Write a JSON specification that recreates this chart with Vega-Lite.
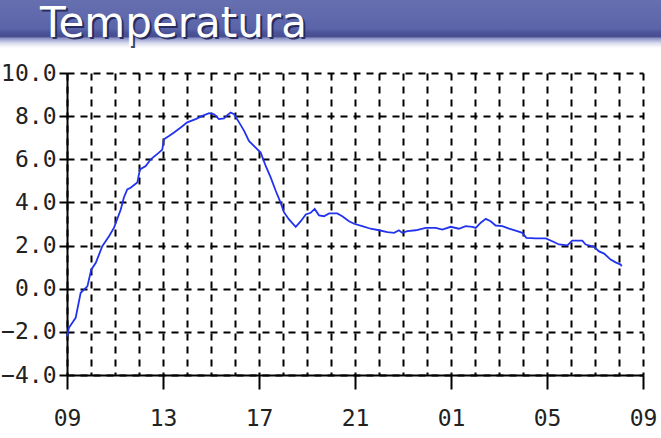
{
  "$schema": "https://vega.github.io/schema/vega-lite/v6.json",
  "padding": 0,
  "background": "white",
  "spacing": 14,
  "config": {"view": {"stroke": null}},
  "vconcat": [
    {
      "width": 594,
      "height": 48,
      "data": {"values": [{"title": "Temperatura"}]},
      "layer": [
        {
          "mark": {
            "type": "rect",
            "xOffset": -67,
            "color": {
              "gradient": "linear",
              "x1": 0, "y1": 0, "x2": 0, "y2": 1,
              "stops": [
                {"offset": 0, "color": "#6670b0"},
                {"offset": 0.6, "color": "#5a64a8"},
                {"offset": 0.68, "color": "#4c5398"},
                {"offset": 0.76, "color": "#474d8e"},
                {"offset": 0.8, "color": "#8d93c6"},
                {"offset": 0.9, "color": "#dadcef"},
                {"offset": 1, "color": "#ffffff"}
              ]
            }
          },
          "encoding": {"x": {"value": 0}, "x2": {"value": "width"}}
        },
        {
          "mark": {"type": "text", "font": "DejaVu Sans", "fontSize": 42, "align": "left", "baseline": "alphabetic", "dx": -322, "dy": 15, "color": "#1d2250", "opacity": 0.85},
          "encoding": {"text": {"field": "title"}}
        },
        {
          "mark": {"type": "text", "font": "DejaVu Sans", "fontSize": 42, "align": "left", "baseline": "alphabetic", "dx": -324, "dy": 13, "color": "#ffffff"},
          "encoding": {"text": {"field": "title"}}
        }
      ]
    },
    {
      "width": 576,
      "height": 302,
      "data": {"values": [
        {"h": 0, "t": -2.22}, {"h": 0.08, "t": -1.81}, {"h": 0.36, "t": -1.35}, {"h": 0.57, "t": -0.19},
        {"h": 0.85, "t": 0.11}, {"h": 1.01, "t": 0.88}, {"h": 1.2, "t": 1.2}, {"h": 1.47, "t": 1.97},
        {"h": 1.75, "t": 2.43}, {"h": 1.96, "t": 2.83}, {"h": 2.24, "t": 3.67}, {"h": 2.37, "t": 4.23},
        {"h": 2.51, "t": 4.6}, {"h": 2.65, "t": 4.68}, {"h": 2.93, "t": 4.92}, {"h": 3.04, "t": 5.53},
        {"h": 3.28, "t": 5.69}, {"h": 3.49, "t": 6.0}, {"h": 3.83, "t": 6.31}, {"h": 3.97, "t": 6.45},
        {"h": 4.04, "t": 6.93}, {"h": 4.25, "t": 7.08}, {"h": 4.46, "t": 7.24}, {"h": 4.74, "t": 7.47},
        {"h": 5.01, "t": 7.71}, {"h": 5.36, "t": 7.86}, {"h": 5.64, "t": 8.01}, {"h": 5.92, "t": 8.14},
        {"h": 6.13, "t": 8.09}, {"h": 6.33, "t": 7.86}, {"h": 6.54, "t": 7.89}, {"h": 6.68, "t": 8.05},
        {"h": 6.82, "t": 8.17}, {"h": 6.96, "t": 8.09}, {"h": 7.17, "t": 7.71}, {"h": 7.38, "t": 7.32},
        {"h": 7.58, "t": 6.85}, {"h": 7.86, "t": 6.54}, {"h": 8.07, "t": 6.31}, {"h": 8.28, "t": 5.69},
        {"h": 8.49, "t": 5.15}, {"h": 8.7, "t": 4.53}, {"h": 8.9, "t": 3.99}, {"h": 9.04, "t": 3.55},
        {"h": 9.25, "t": 3.21}, {"h": 9.53, "t": 2.87}, {"h": 9.74, "t": 3.13}, {"h": 9.95, "t": 3.44},
        {"h": 10.15, "t": 3.52}, {"h": 10.32, "t": 3.7}, {"h": 10.5, "t": 3.4}, {"h": 10.71, "t": 3.36},
        {"h": 10.92, "t": 3.49}, {"h": 11.26, "t": 3.49}, {"h": 11.47, "t": 3.36}, {"h": 11.75, "t": 3.13},
        {"h": 11.96, "t": 3.01}, {"h": 12.3, "t": 2.9}, {"h": 12.65, "t": 2.78}, {"h": 13.0, "t": 2.71},
        {"h": 13.35, "t": 2.62}, {"h": 13.63, "t": 2.59}, {"h": 13.83, "t": 2.71}, {"h": 13.97, "t": 2.59},
        {"h": 14.18, "t": 2.67}, {"h": 14.53, "t": 2.71}, {"h": 14.95, "t": 2.82}, {"h": 15.36, "t": 2.82},
        {"h": 15.64, "t": 2.74}, {"h": 15.99, "t": 2.87}, {"h": 16.33, "t": 2.78}, {"h": 16.61, "t": 2.9},
        {"h": 16.89, "t": 2.87}, {"h": 17.03, "t": 2.82}, {"h": 17.24, "t": 3.06}, {"h": 17.45, "t": 3.24},
        {"h": 17.65, "t": 3.13}, {"h": 17.86, "t": 2.93}, {"h": 18.14, "t": 2.9}, {"h": 18.42, "t": 2.79},
        {"h": 18.76, "t": 2.67}, {"h": 18.97, "t": 2.59}, {"h": 19.14, "t": 2.36}, {"h": 19.53, "t": 2.33},
        {"h": 19.95, "t": 2.33}, {"h": 20.22, "t": 2.2}, {"h": 20.5, "t": 2.05}, {"h": 20.85, "t": 2.01},
        {"h": 21.05, "t": 2.23}, {"h": 21.47, "t": 2.23}, {"h": 21.61, "t": 2.05}, {"h": 21.96, "t": 1.94},
        {"h": 22.17, "t": 1.73}, {"h": 22.38, "t": 1.63}, {"h": 22.65, "t": 1.35}, {"h": 22.86, "t": 1.22},
        {"h": 23.07, "t": 1.12}, {"h": 23.11, "t": 1.04}
      ]},
      "mark": {"type": "line", "color": "#2233ee", "strokeWidth": 1.8},
      "encoding": {
        "x": {
          "field": "h", "type": "quantitative",
          "scale": {"domain": [0, 24], "nice": false, "zero": false},
          "axis": {
            "title": null,
            "values": [0,1,2,3,4,5,6,7,8,9,10,11,12,13,14,15,16,17,18,19,20,21,22,23,24],
            "grid": true, "gridColor": "#000000", "gridWidth": 2, "gridDash": [7, 6], "gridOpacity": 1,
            "domainColor": "#000000", "domainWidth": 2,
            "tickColor": "#000000", "tickWidth": 2, "tickSize": 14,
            "tickOpacity": {"condition": {"test": "datum.value % 4 === 0", "value": 1}, "value": 0},
            "labelExpr": "datum.value % 4 === 0 ? ((((datum.value + 9) % 24) < 10 ? '0' : '') + ((datum.value + 9) % 24)) : ''",
            "labelFont": "DejaVu Sans Mono", "labelFontSize": 23, "labelColor": "#222222",
            "labelPadding": 18, "labelAngle": 0, "labelOverlap": false, "labelFlush": false
          }
        },
        "y": {
          "field": "t", "type": "quantitative",
          "scale": {"domain": [-4, 10], "nice": false, "zero": false},
          "axis": {
            "title": null,
            "values": [-4, -2, 0, 2, 4, 6, 8, 10],
            "format": ".1f",
            "grid": true, "gridColor": "#000000", "gridWidth": 2, "gridDash": [7, 6], "gridOpacity": 1,
            "domainColor": "#000000", "domainWidth": 2,
            "tickColor": "#000000", "tickWidth": 2, "tickSize": 8,
            "labelFont": "DejaVu Sans Mono", "labelFontSize": 23, "labelColor": "#222222",
            "labelPadding": 3, "labelOverlap": false, "labelFlush": false
          }
        }
      }
    }
  ]
}
